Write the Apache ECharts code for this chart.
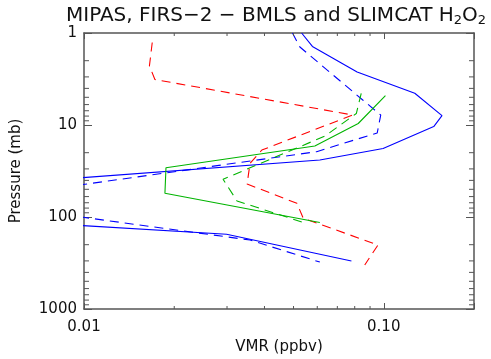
<!DOCTYPE html>
<html>
<head>
<meta charset="utf-8">
<script src="https://cdn.jsdelivr.net/npm/echarts@6/dist/echarts.min.js"></script>
<style>
html,body{margin:0;padding:0;background:#fff;}
#chart{width:491px;height:359px;}
</style>
</head>
<body>
<div id="chart"></div>
<script>
// Values (VMR in ppbv, pressure in mb)
const blueSolidVMR = [0.0532, 0.0578, 0.0815, 0.1269, 0.1564, 0.1468, 0.0995, 0.0612, 0.00064, 0.0299, 0.0780];
const blueSolidP   = [1.0, 1.40, 2.65, 4.52, 7.92, 10.4, 18.0, 24.0, 72.6, 154, 301];

const blueDashVMR = [0.0496, 0.0525, 0.0851, 0.0977, 0.0951, 0.0597, 0.0040, 0.0358, 0.0612];
const blueDashP   = [1.0, 1.42, 5.35, 7.79, 12.2, 19.5, 67.3, 178, 309];

const redDashVMR = [0.01689, 0.01653, 0.01724, 0.0788, 0.0392, 0.0358, 0.0350, 0.0513, 0.0539, 0.0957, 0.0864];
const redDashP   = [1.27, 2.28, 3.20, 7.79, 18.7, 26.1, 43.8, 71.0, 103.3, 201.5, 332];

const greenSolidVMR = [0.1013, 0.0822, 0.0589, 0.01877, 0.01862, 0.0612];
const greenSolidP   = [4.80, 9.63, 16.9, 29.1, 55.3, 114.8];

const greenDashVMR = [0.0841, 0.0810, 0.0636, 0.0291, 0.0324, 0.0533];
const greenDashP   = [4.52, 7.50, 13.2, 38.9, 67.0, 113.3];

const xMajorLabels = [0.01, 0.1];
const xMinorTicks = [0.02, 0.03, 0.04, 0.05, 0.06, 0.07, 0.08, 0.09];
const yMinorTicks = [2,3,4,5,6,7,8,9,20,30,40,50,60,70,80,90,200,300,400,500,600,700,800,900];

const FONT = 'DejaVu Sans';
const AXC = '#555';

function pairs(xs, ys){ return xs.map((x,i)=>[x, ys[i]]); }

function lineSeries(name, xs, ys, color, dashed){
  return {
    name: name, type: 'line', xAxisIndex: 0, yAxisIndex: 0,
    data: pairs(xs, ys), symbol: 'none', clip: true,
    lineStyle: {color: color, width: 1.1, type: dashed ? [9, 6] : 'solid'},
    z: 3
  };
}

const chart = echarts.init(document.getElementById('chart'), null, {renderer: 'canvas'});

const xBase = {
  type: 'log', logBase: 10, min: 0.01, max: 0.2,
  axisLine: {show: true, lineStyle: {color: AXC, width: 1.5}},
  axisTick: {show: true, inside: true, length: 6, lineStyle: {color: AXC}},
  splitLine: {show: false}
};
const yBase = {
  type: 'log', logBase: 10, min: 1, max: 1000, inverse: true,
  axisLine: {show: true, lineStyle: {color: AXC, width: 1.5}},
  axisTick: {show: true, inside: true, length: 8, lineStyle: {color: AXC}},
  splitLine: {show: false}
};

const option = {
  animation: false,
  backgroundColor: '#fff',
  title: {
    left: 66, top: 5, padding: 0,
    text: '{a|MIPAS, FIRS\u22122 \u2212 BMLS and SLIMCAT H}{s|2}{a|O}{s|2}',
    textStyle: {
      rich: {
        a: {fontFamily: FONT, fontSize: 20, color: '#111', fontWeight: 'normal'},
        s: {fontFamily: FONT, fontSize: 13, color: '#111', fontWeight: 'normal', verticalAlign: 'bottom', padding: [9, 0, 0, 0]}
      }
    }
  },
  grid: {left: 84, right: 17, top: 33, bottom: 50, containLabel: false, outerBoundsMode: 'none'},
  xAxis: [
    Object.assign({}, xBase, {
      position: 'bottom',
      name: 'VMR (ppbv)', nameLocation: 'middle', nameGap: 31,
      nameTextStyle: {fontFamily: FONT, fontSize: 15, color: '#111'},
      axisLabel: {
        show: true, margin: 11, fontFamily: FONT, fontSize: 15, color: '#111',
        showMinLabel: true, showMaxLabel: true,
        formatter: function(v){
          for (const m of xMajorLabels) { if (Math.abs(v - m) / m < 1e-6) return m.toFixed(2); }
          return '';
        }
      }
    }),
    Object.assign({}, xBase, {position: 'top', axisLabel: {show: false}})
  ],
  yAxis: [
    Object.assign({}, yBase, {
      position: 'left',
      name: 'Pressure (mb)', nameLocation: 'middle', nameGap: 60, nameRotate: 90,
      nameTextStyle: {fontFamily: FONT, fontSize: 15, color: '#111'},
      axisLabel: {
        show: true, margin: 7, fontFamily: FONT, fontSize: 15, color: '#111',
        formatter: function(v){ return String(Math.round(v)); }
      }
    }),
    Object.assign({}, yBase, {position: 'right', axisLabel: {show: false}})
  ],
  series: [
    lineSeries('Blue solid', blueSolidVMR, blueSolidP, '#0000ff', false),
    lineSeries('Blue dashed', blueDashVMR, blueDashP, '#0000ff', true),
    lineSeries('Red dashed', redDashVMR, redDashP, '#ff0000', true),
    lineSeries('Green solid', greenSolidVMR, greenSolidP, '#00b400', false),
    lineSeries('Green dashed', greenDashVMR, greenDashP, '#00b400', true),
    {
      type: 'custom', silent: true, xAxisIndex: 0, yAxisIndex: 0, z: 4,
      data: xMinorTicks.map(v => [v, 1]),
      renderItem: function(params, api){
        const v = api.value(0);
        const b = api.coord([v, 1000]);
        const t = api.coord([v, 1]);
        const st = {stroke: AXC, lineWidth: 1};
        return {type: 'group', children: [
          {type: 'line', shape: {x1: b[0], y1: b[1], x2: b[0], y2: b[1] - 3}, style: st},
          {type: 'line', shape: {x1: t[0], y1: t[1], x2: t[0], y2: t[1] + 3}, style: st}
        ]};
      }
    },
    {
      type: 'custom', silent: true, xAxisIndex: 0, yAxisIndex: 0, z: 4,
      data: yMinorTicks.map(v => [0.01, v]),
      renderItem: function(params, api){
        const v = api.value(1);
        const l = api.coord([0.01, v]);
        const r = api.coord([0.2, v]);
        const st = {stroke: AXC, lineWidth: 1};
        return {type: 'group', children: [
          {type: 'line', shape: {x1: l[0], y1: l[1], x2: l[0] + 5, y2: l[1]}, style: st},
          {type: 'line', shape: {x1: r[0], y1: r[1], x2: r[0] - 5, y2: r[1]}, style: st}
        ]};
      }
    }
  ]
};
chart.setOption(option);
</script>
</body>
</html>
